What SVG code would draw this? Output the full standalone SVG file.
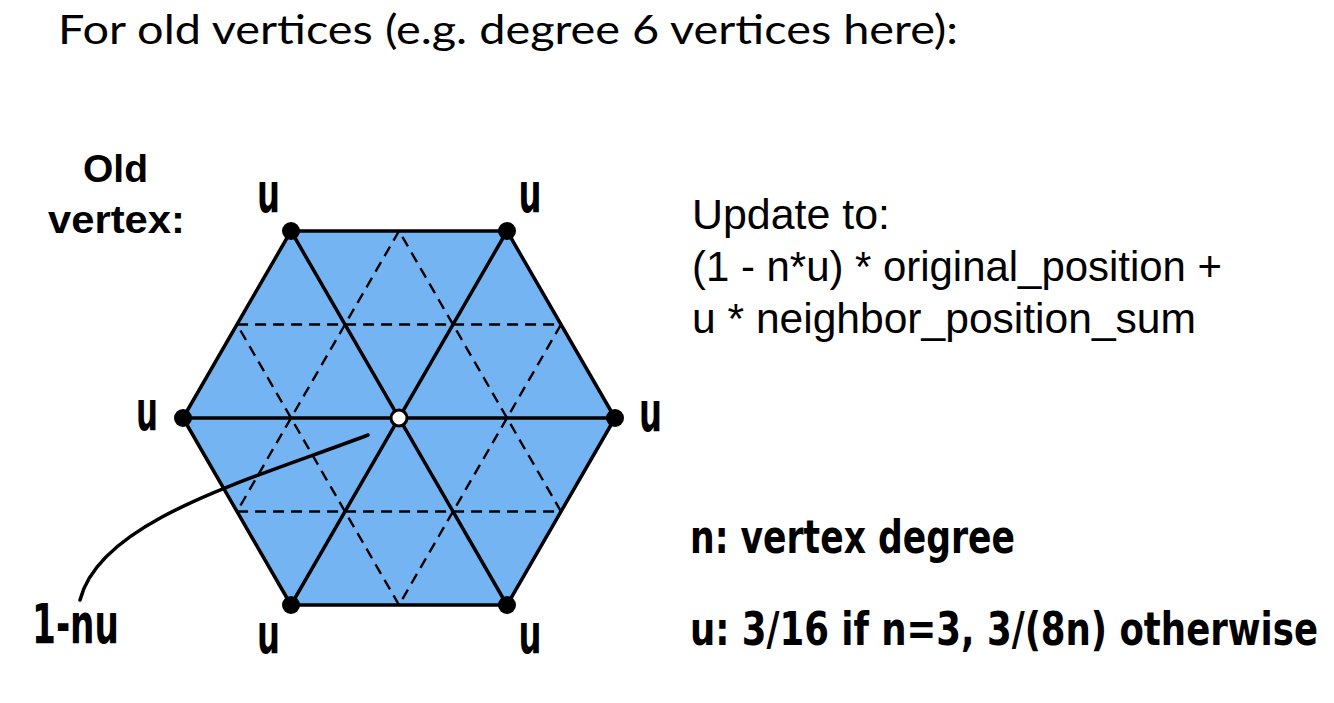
<svg xmlns="http://www.w3.org/2000/svg" width="1334" height="703" viewBox="0 0 1334 703">
<style>
.title{font-family:Lato,"Open Sans","Liberation Sans",sans-serif;font-weight:400;font-size:40px;fill:#000}
.helv{font-family:"Liberation Sans",Arial,sans-serif;font-size:42px;fill:#000}
.bold{font-family:"Liberation Sans",Arial,sans-serif;font-weight:bold;font-size:39px;fill:#000}
.cond{font-family:"Liberation Sans Narrow","DejaVu Sans Condensed","Liberation Sans",sans-serif;font-weight:bold;fill:#000}
.lbl{font-size:56px}
.note{font-size:46px}
.solid{stroke:#000;stroke-width:3.5;fill:none;stroke-linecap:round}
.dash{stroke:#000;stroke-width:2.4;fill:none;stroke-dasharray:11 7}
.dot{fill:#000}
</style>
<text class="title" x="58" y="44" textLength="900" lengthAdjust="spacingAndGlyphs">For old vertices (e.g. degree 6 vertices here):</text>

<g id="old-vertex-label">
<text class="bold" x="115.5" y="182" text-anchor="middle">Old</text>
<text class="bold" x="48" y="233" textLength="137" lengthAdjust="spacingAndGlyphs">vertex:</text>
</g>

<g id="mesh">
<polygon points="615,418 507,231 291,231 183,418 291,605 507,605" fill="#74b4f2" stroke="none"/>
<polygon class="dash" points="399,231 237,511.5 561,511.5"/>
<polygon class="dash" points="399,605 237,324.5 561,324.5"/>
<polygon class="solid" points="615,418 507,231 291,231 183,418 291,605 507,605" stroke-linejoin="round"/>
<line class="solid" x1="183" y1="418" x2="615" y2="418"/>
<line class="solid" x1="291" y1="231" x2="507" y2="605"/>
<line class="solid" x1="507" y1="231" x2="291" y2="605"/>
</g>

<g id="v-top-left"><circle class="dot" cx="291" cy="231" r="9"/><text class="cond lbl" x="268.5" y="212" text-anchor="middle" textLength="23" lengthAdjust="spacingAndGlyphs">u</text></g>
<g id="v-top-right"><circle class="dot" cx="507" cy="231" r="9"/><text class="cond lbl" x="530" y="212" text-anchor="middle" textLength="23" lengthAdjust="spacingAndGlyphs">u</text></g>
<g id="v-left"><circle class="dot" cx="183" cy="418" r="9"/><text class="cond lbl" x="147" y="430" text-anchor="middle" textLength="22" lengthAdjust="spacingAndGlyphs">u</text></g>
<g id="v-right"><circle class="dot" cx="615" cy="418" r="9"/><text class="cond lbl" x="650.5" y="431" text-anchor="middle" textLength="23" lengthAdjust="spacingAndGlyphs">u</text></g>
<g id="v-bottom-left"><circle class="dot" cx="291" cy="605" r="9"/><text class="cond lbl" x="268.5" y="653" text-anchor="middle" textLength="23" lengthAdjust="spacingAndGlyphs">u</text></g>
<g id="v-bottom-right"><circle class="dot" cx="507" cy="605" r="9"/><text class="cond lbl" x="530" y="653" text-anchor="middle" textLength="23" lengthAdjust="spacingAndGlyphs">u</text></g>
<g id="v-center"><circle cx="399" cy="418" r="8" fill="#fff" stroke="#000" stroke-width="3"/></g>

<g id="connectors">
<path class="solid" d="M368,435 C250,480 100,520 80,600"/>
</g>

<g id="center-label">
<text class="cond lbl" x="32" y="643" textLength="87" lengthAdjust="spacingAndGlyphs">1-nu</text>
</g>

<g id="update-text">
<text class="helv" x="692" y="229" textLength="198" lengthAdjust="spacingAndGlyphs">Update to:</text>
<text class="helv" x="692" y="281" textLength="530" lengthAdjust="spacingAndGlyphs">(1 - n*u) * original_position +</text>
<text class="helv" x="692" y="333" textLength="504" lengthAdjust="spacingAndGlyphs">u * neighbor_position_sum</text>
</g>

<g id="definitions">
<text class="cond note" x="690" y="553" textLength="325" lengthAdjust="spacingAndGlyphs">n: vertex degree</text>
<text class="cond note" transform="translate(690,645) scale(0.8,1)" x="0" y="0" textLength="785" lengthAdjust="spacingAndGlyphs">u: 3/16 if n=3, 3/(8n) otherwise</text>
</g>
</svg>
